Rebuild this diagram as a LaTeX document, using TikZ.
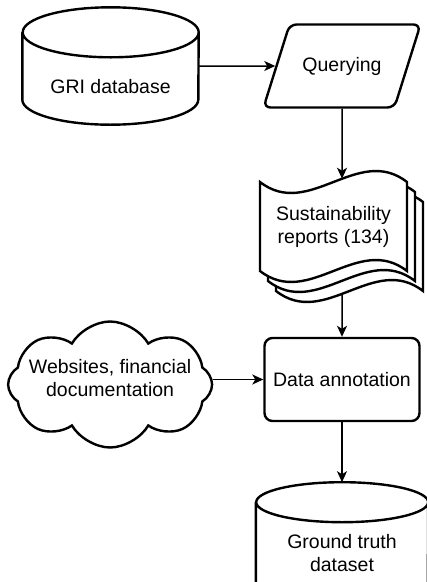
\documentclass[tikz,border=0pt]{standalone}
\usepackage{fontspec}
\setmainfont{Liberation Sans}
\usetikzlibrary{arrows.meta,backgrounds,positioning,shapes.geometric,shapes.symbols}

\tikzset{
  box/.style={draw, line width=2.4pt, align=center, font=\fontsize{19.5}{23}\selectfont},
  database/.style={rectangle, inner sep=0pt, minimum width=#1},
  caption/.style={align=center, font=\fontsize{19.5}{23}\selectfont},
  query/.style={box, trapezium, trapezium left angle=72, trapezium right angle=108,
    trapezium stretches body=true, inner ysep=31pt, minimum width=157pt, minimum height=83pt,
    rounded corners=7pt},
  process/.style={box, rectangle, rounded corners=8pt, minimum width=155pt, minimum height=83pt},
  source/.style={box, cloud, cloud puffs=8, cloud puff arc=120, cloud ignores aspect,
    minimum width=204pt, minimum height=126pt, inner sep=0pt},
  page/.style={line width=2.4pt, fill=white},
  flow/.style={line width=1.5pt, ->},
}

\begin{document}
\begin{tikzpicture}[x=1pt, y=-1pt, >={Stealth[length=11pt,width=10pt,inset=3pt]}]
    \useasboundingbox (0,0) rectangle (427,582);
    \node[database=176pt, minimum height=117pt,
      label={[caption, yshift=-21pt]center:GRI database}] (gri) at (110.5,66) {};
    \node[query] (query) at (342,66) {Querying};
    \node[caption] (reports) at (333.5,226.5) {Sustainability\\reports (134)};
    \node[process] (annot) at (342,379.5) {Data annotation};
    \node[source, label={[caption, yshift=6pt]center:Websites, financial\\documentation}] (web)
      [left=50pt of annot, yshift=-5pt] {};
    \node[database=172pt, minimum height=122pt,
      label={[caption, yshift=-10pt]center:Ground truth\\dataset}] (gt) [below=60pt of annot] {};
    \begin{scope}[on background layer]
        % cylinders
        \draw[page] ([yshift=-25pt]gri.north west) -- ([yshift=25pt]gri.south west)
          arc[start angle=180, end angle=0, x radius=88, y radius=25] -- ([yshift=-25pt]gri.north east)
          arc[start angle=0, end angle=-180, x radius=88, y radius=25]
          arc[start angle=180, end angle=0, x radius=88, y radius=25];
        \draw[page] ([yshift=-20pt]gt.north west) -- ([yshift=20pt]gt.south west)
          arc[start angle=180, end angle=0, x radius=86, y radius=20] -- ([yshift=-20pt]gt.north east)
          arc[start angle=0, end angle=-180, x radius=86, y radius=20]
          arc[start angle=180, end angle=0, x radius=86, y radius=20];
        % three stacked pages, back one first
        \draw[page, shift={(16,20)}] (260,182) .. controls +(49,38) and +(-49,-38) .. (407,182)
          -- (407,271) .. controls +(-49,-38) and +(49,38) .. (260,271) coordinate[pos=0.551] (reports out) -- cycle;
        \draw[page, shift={(8,10)}] (260,182) .. controls +(49,38) and +(-49,-38) .. (407,182)
          -- (407,271) .. controls +(-49,-38) and +(49,38) .. (260,271) -- cycle;
        \draw[page] (260,182) .. controls +(49,38) and +(-49,-38) .. (407,182) coordinate[pos=0.558] (reports in)
          -- (407,271) .. controls +(-49,-38) and +(49,38) .. (260,271) -- cycle;
    \end{scope}
    \draw[flow] (gri) -- (query);
    \draw[flow] (query) -- (reports in);
    \draw[flow] (reports out) -- (annot);
    \draw[flow] (web.east |- annot) -- (annot);
    \draw[flow] (annot) -- (gt);
\end{tikzpicture}
\end{document}
